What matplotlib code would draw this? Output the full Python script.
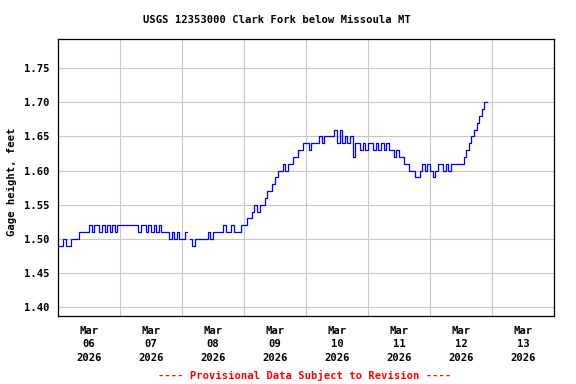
import numpy as np
import pandas as pd
import matplotlib
matplotlib.use('Agg')
import matplotlib.pyplot as plt
import matplotlib.dates as mdates

# Lecturas horarias de altura (pies), desde 2026-03-06 00:00
mar06 = [1.49, 1.49, 1.50, 1.49, 1.49, 1.50, 1.50, 1.50, 1.51, 1.51, 1.51, 1.51,
         1.52, 1.51, 1.52, 1.52, 1.51, 1.52, 1.51, 1.52, 1.51, 1.52, 1.51, 1.52]
mar07 = [1.52, 1.52, 1.52, 1.52, 1.52, 1.52, 1.52, 1.51, 1.52, 1.52, 1.51, 1.52,
         1.51, 1.52, 1.51, 1.52, 1.51, 1.51, 1.51, 1.50, 1.51, 1.50, 1.51, 1.50]
mar08 = [1.50, 1.51, np.nan, 1.50, 1.49, 1.50, 1.50, 1.50, 1.50, 1.50, 1.51, 1.50,
         1.51, 1.51, 1.51, 1.51, 1.52, 1.51, 1.51, 1.52, 1.51, 1.51, 1.51, 1.52]
mar09 = [1.52, 1.53, 1.53, 1.54, 1.55, 1.54, 1.55, 1.55, 1.56, 1.57, 1.57, 1.58,
         1.59, 1.60, 1.60, 1.61, 1.60, 1.61, 1.61, 1.62, 1.62, 1.63, 1.63, 1.64]
mar10 = [1.64, 1.63, 1.64, 1.64, 1.64, 1.65, 1.64, 1.65, 1.65, 1.65, 1.65, 1.66,
         1.64, 1.66, 1.64, 1.65, 1.64, 1.65, 1.62, 1.64, 1.64, 1.63, 1.64, 1.63]
mar11 = [1.64, 1.64, 1.63, 1.64, 1.63, 1.64, 1.63, 1.64, 1.63, 1.63, 1.62, 1.63,
         1.62, 1.62, 1.61, 1.61, 1.60, 1.60, 1.59, 1.59, 1.60, 1.61, 1.60, 1.61]
mar12 = [1.60, 1.59, 1.60, 1.61, 1.61, 1.60, 1.61, 1.60, 1.61, 1.61, 1.61, 1.61,
         1.61, 1.62, 1.63, 1.64, 1.65, 1.66, 1.67, 1.68, 1.69, 1.70, 1.70]

alturas = mar06 + mar07 + mar08 + mar09 + mar10 + mar11 + mar12
tiempos = pd.date_range('2026-03-06 00:00', periods=len(alturas), freq='h')

yticks = [1.40, 1.45, 1.50, 1.55, 1.60, 1.65, 1.70, 1.75]

fuente = 'DejaVu Sans Mono'
tam = 7.6

fig = plt.figure(figsize=(5.76, 3.84), dpi=100)
ax = fig.add_axes([58 / 576, 1 - 316 / 384, 496 / 576, 277 / 384])

ax.plot(tiempos, alturas, color='#0000ff', linewidth=0.9, drawstyle='steps-post', zorder=3)

ax.set_xlim(pd.Timestamp('2026-03-06'), pd.Timestamp('2026-03-14'))
ax.set_ylim(1.3873, 1.7925)
ax.set_yticks(yticks)
ax.set_yticklabels(['%.2f' % v for v in yticks], fontfamily=fuente, fontweight='bold', fontsize=tam)

# Cuadricula en medianoche, etiquetas al mediodia
ax.xaxis.set_major_locator(mdates.DayLocator())
ax.xaxis.set_major_formatter(plt.NullFormatter())
ax.xaxis.set_minor_locator(mdates.HourLocator(byhour=[12]))
ax.xaxis.set_minor_formatter(mdates.DateFormatter('%b\n%d\n%Y'))
for lbl in ax.xaxis.get_minorticklabels():
    lbl.set_fontfamily(fuente)
    lbl.set_fontweight('bold')
    lbl.set_fontsize(tam)
    lbl.set_linespacing(1.45)

ax.tick_params(axis='both', which='both', length=0)
ax.tick_params(axis='y', pad=6)
ax.tick_params(axis='x', which='minor', pad=7)
ax.grid(True, which='major', color='#c8c8c8', linewidth=0.8)
ax.set_axisbelow(True)
for s in ax.spines.values():
    s.set_linewidth(0.9)
    s.set_color('black')

fig.text(277 / 576, 1 - 20 / 384, 'USGS 12353000 Clark Fork below Missoula MT',
         ha='center', va='center', fontfamily=fuente, fontweight='bold', fontsize=tam)
fig.text(12 / 576, 1 - 182 / 384, 'Gage height, feet', rotation=90,
         ha='center', va='center', fontfamily=fuente, fontweight='bold', fontsize=tam)
fig.text(305 / 576, 1 - 375 / 384, '---- Provisional Data Subject to Revision ----',
         ha='center', va='center', color='red', fontfamily=fuente, fontweight='bold', fontsize=tam)

fig.savefig('out.png', dpi=100)
